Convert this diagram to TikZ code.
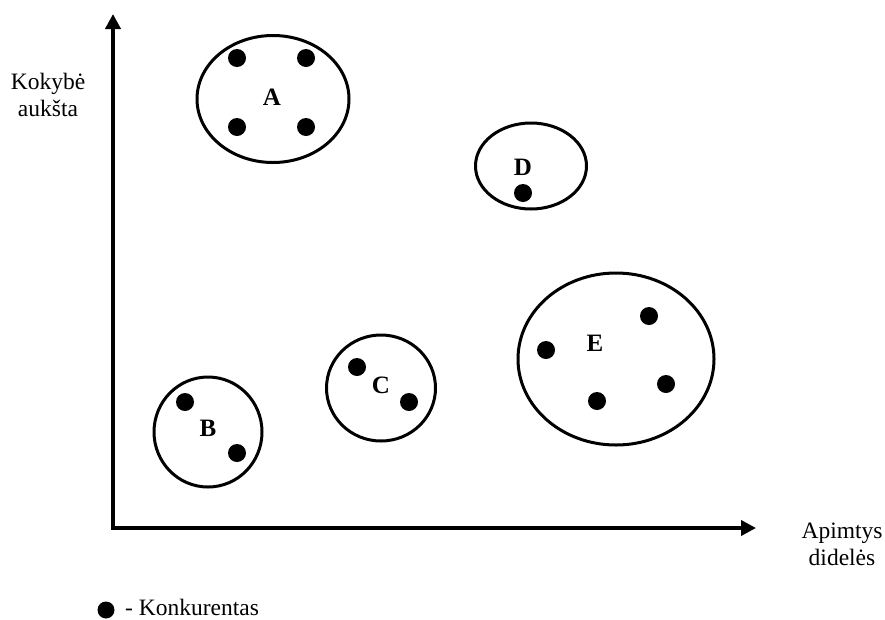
\documentclass[tikz,border=0pt]{standalone}
\usepackage{fontspec}
\setmainfont{Liberation Serif}
\usetikzlibrary{arrows.meta,shapes.geometric}
\begin{document}
\begin{tikzpicture}[x=1pt,y=-1pt,
  grp/.style={draw,ellipse,line width=3pt,inner sep=0pt},
  dot/.style={circle,fill=black,inner sep=0pt,minimum size=18pt},
  lbl/.style={font=\fontsize{25}{30}\selectfont\bfseries,inner sep=0pt},
  txt/.style={font=\fontsize{23.5}{27}\selectfont,align=center,inner sep=0pt},
  axis/.style={line width=4pt,-{Triangle[length=15pt,width=15pt]}}]
\useasboundingbox (0,0) rectangle (885,619);
% axes
\coordinate (o) at (113,528);
\coordinate (ytip) at (113,14);
\coordinate (xtip) at (756,528);
\draw[axis] ([yshift=2pt]o) -- (ytip);
\draw[axis] ([xshift=-2pt]o) -- (xtip);
\node[txt] (ylab) at (48,95) {Kokybė\\aukšta};
\node[txt] (xlab) at (842,544) {Apimtys\\didelės};
% group A
\node[grp,minimum width=152pt,minimum height=127pt] (A) at (273,99) {};
\node[lbl] (Al) at (272,97) {A};
\node[dot] (a1) at (237,58) {};
\node[dot] (a2) at (306,58) {};
\node[dot] (a3) at (237,127) {};
\node[dot] (a4) at (306,127) {};
% group D
\node[grp,minimum width=111pt,minimum height=86pt] (D) at (531,166) {};
\node[lbl] (Dl) at (523,167) {D};
\node[dot] (d1) at (523,193) {};
% group E
\node[grp,minimum width=196pt,minimum height=172pt] (E) at (616,359) {};
\node[lbl] (El) at (595,343) {E};
\node[dot] (e1) at (546,350) {};
\node[dot] (e2) at (649,316) {};
\node[dot] (e3) at (666,384) {};
\node[dot] (e4) at (597,401) {};
% group B
\node[grp,minimum width=108pt,minimum height=110pt] (B) at (208,432) {};
\node[lbl] (Bl) at (208,428) {B};
\node[dot] (b1) at (185,402) {};
\node[dot] (b2) at (237,453) {};
% group C
\node[grp,minimum width=109pt,minimum height=106pt] (C) at (381,388) {};
\node[lbl] (Cl) at (381,385) {C};
\node[dot] (c1) at (357,367) {};
\node[dot] (c2) at (409,402) {};
% legend
\node[dot,minimum size=17pt] (ld) at (106,610) {};
\node[txt,anchor=base west] (lt) at (125,615) {- Konkurentas};
\end{tikzpicture}
\end{document}
